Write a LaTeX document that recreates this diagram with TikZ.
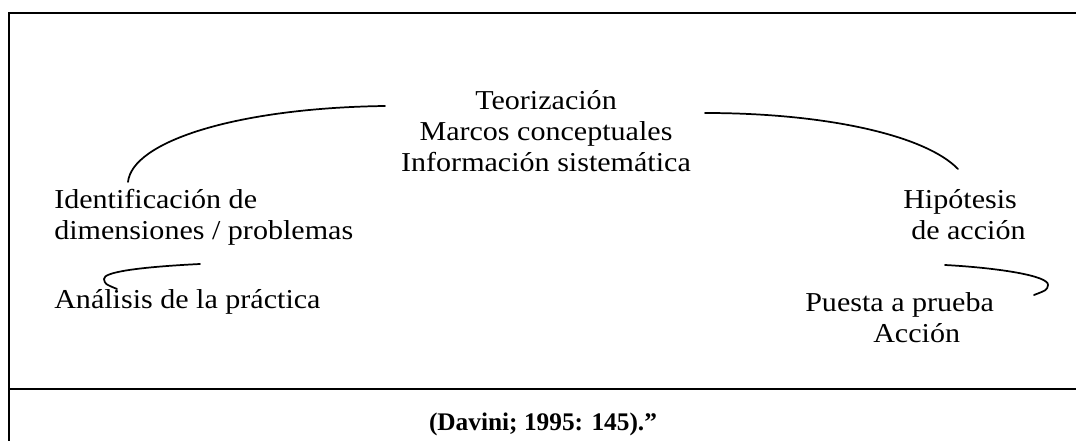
\documentclass[tikz,border=0pt]{standalone}
\usepackage{fontspec}
\setmainfont[FakeStretch=1.1]{Liberation Serif}
\newfontfamily\citefont{Liberation Serif}
\begin{document}
\begin{tikzpicture}[x=0.75pt,y=-0.75pt,
  frame/.style={line width=1.4pt,black},
  arc/.style={line width=1.3pt,black,line cap=round},
  lbl/.style={inner sep=0pt,font=\fontsize{20.5}{23.5}\selectfont},
  cite/.style={inner sep=0pt,font=\citefont\bfseries\fontsize{19}{22}\selectfont}]
\useasboundingbox (0,0) rectangle (1076,441);
% frame
\draw[frame] (8.7,441) -- (8.7,12.7) -- (1076,12.7);
\draw[frame] (8.7,389) -- (1076,389);
% labels
\node[lbl,align=center,anchor=north] (teo) at (546,90) {Teorización\\Marcos conceptuales\\Información sistemática};
\node[lbl,align=left,anchor=north west] (ide) at (54,189) {Identificación de\\dimensiones / problemas};
\node[lbl,anchor=base west] (ana) at (54,309) {Análisis de la práctica};
\node[lbl,align=left,anchor=north west] (hip) at (903,189) {Hipótesis\\\hspace*{6pt}de acción};
\node[lbl,align=left,anchor=north west] (pue) at (805,292) {Puesta a prueba\\\hspace*{51pt}Acción};
\node[cite,anchor=base] (cit) at (543,431) {(Davini; 1995: 145).”};
% arcs
\coordinate (a1s) at (128,182); \coordinate (a1e) at (385,106);
\coordinate (a2s) at (705,113); \coordinate (a2e) at (958,169);
\coordinate (a3s) at (200,264); \coordinate (a3m) at (104,279); \coordinate (a3e) at (117,289);
\coordinate (a4s) at (945,265); \coordinate (a4m) at (1048,285); \coordinate (a4e) at (1034,295);
\draw[arc] (a1s) .. controls (132,142) and (235,108) .. (a1e);
\draw[arc] (a2s) .. controls (825,113) and (925,135) .. (a2e);
\draw[arc] (a3s) .. controls (140,267) and (103,272) .. (a3m) .. controls (105,284) .. (a3e);
\draw[arc] (a4s) .. controls (1000,268) and (1049,276) .. (a4m) .. controls (1047,290) .. (a4e);
\end{tikzpicture}
\end{document}
